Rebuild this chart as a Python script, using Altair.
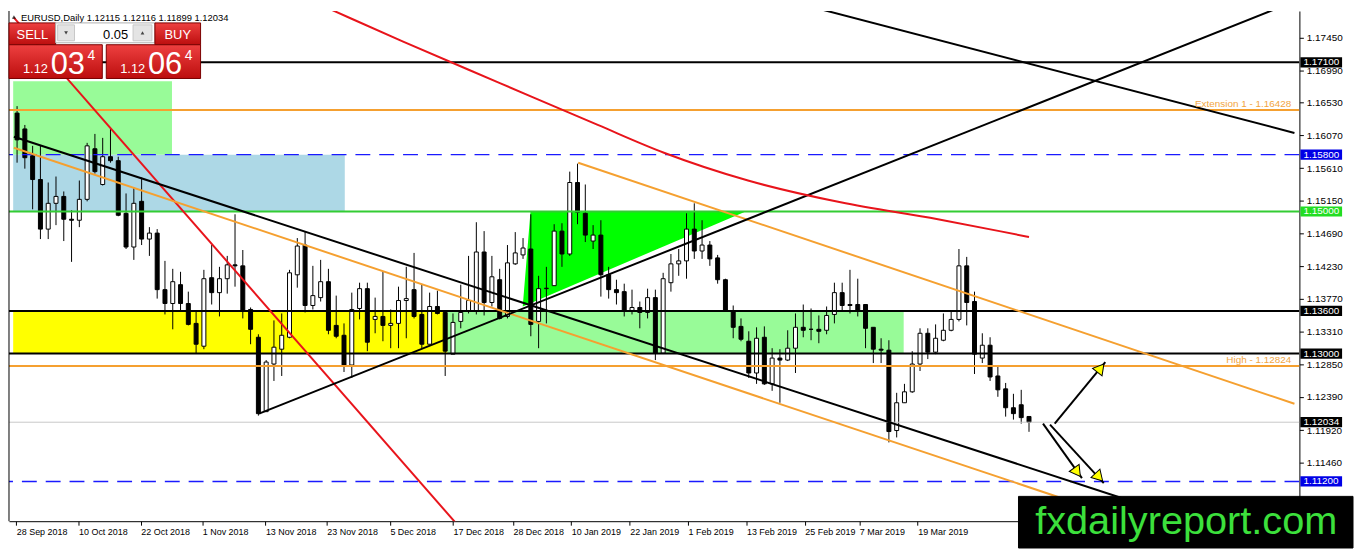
import json
import altair as alt
import pandas as pd

# EURUSD daily candles, bar index 0 (28 Sep 2018) .. 130 (last bar)
opens = [1.16385, 1.16162, 1.15785, 1.15450, 1.14752, 1.15115, 1.15212, 1.14891, 1.14877, 1.15171,
         1.15883, 1.15380, 1.15771, 1.15715, 1.14975, 1.14500, 1.15143, 1.14612, 1.14696, 1.13900,
         1.13705, 1.13970, 1.13705, 1.13425, 1.13104, 1.14068, 1.13858, 1.14054, 1.14249, 1.14235,
         1.13621, 1.13230, 1.12183, 1.12853, 1.13062, 1.13230, 1.14109, 1.14528, 1.13677, 1.13788,
         1.14012, 1.13397, 1.13258, 1.12839, 1.13635, 1.13914, 1.13481, 1.13523, 1.13397, 1.13425,
         1.13747, 1.13900, 1.13551, 1.13132, 1.13663, 1.13579, 1.12992, 1.13453, 1.13593, 1.13593,
         1.14430, 1.13719, 1.14040, 1.13523, 1.14263, 1.14389, 1.14472, 1.13453, 1.13914, 1.13956,
         1.14724, 1.14402, 1.15408, 1.14975, 1.14584, 1.14668, 1.14109, 1.13900, 1.13872, 1.13607,
         1.13649, 1.13579, 1.13788, 1.13006, 1.13998, 1.14263, 1.14305, 1.14752, 1.14444, 1.14528,
         1.14347, 1.14040, 1.13593, 1.13383, 1.13174, 1.12727, 1.13230, 1.12574, 1.12937, 1.12909,
         1.13076, 1.13370, 1.13342, 1.13342, 1.13328, 1.13551, 1.13858, 1.13691, 1.13691, 1.13691,
         1.13370, 1.13062, 1.13048, 1.11917, 1.12308, 1.12462, 1.12853, 1.13286, 1.13020, 1.13188,
         1.13328, 1.13481, 1.14235, 1.13733, 1.12937, 1.13118, 1.12685, 1.12504, 1.12238, 1.12280,
         1.12115]
highs = [1.16483, 1.16218, 1.15924, 1.15924, 1.15408, 1.15492, 1.15282, 1.15017, 1.15436, 1.15966,
         1.16092, 1.16036, 1.16176, 1.15771, 1.15254, 1.15338, 1.15478, 1.14780, 1.14752, 1.14305,
         1.14193, 1.14151, 1.13872, 1.13593, 1.14179, 1.14528, 1.14221, 1.14375, 1.14961, 1.14458,
         1.13649, 1.13272, 1.12909, 1.13467, 1.13565, 1.14179, 1.14626, 1.14724, 1.14235, 1.14319,
         1.14193, 1.13816, 1.13425, 1.13858, 1.13998, 1.13998, 1.13788, 1.14151, 1.13621, 1.13942,
         1.14221, 1.14417, 1.13970, 1.13858, 1.13886, 1.13607, 1.13565, 1.13970, 1.14375, 1.14849,
         1.14724, 1.14375, 1.14193, 1.14528, 1.14710, 1.14626, 1.14961, 1.14095, 1.14221, 1.14821,
         1.14835, 1.15561, 1.15673, 1.15380, 1.14808, 1.14877, 1.14221, 1.14040, 1.13984, 1.13900,
         1.13733, 1.13914, 1.13900, 1.14137, 1.14402, 1.14472, 1.14975, 1.15115, 1.14877, 1.14584,
         1.14389, 1.14054, 1.13677, 1.13495, 1.13314, 1.13370, 1.13383, 1.13076, 1.13062, 1.13328,
         1.13565, 1.13691, 1.13635, 1.13537, 1.13663, 1.13998, 1.13998, 1.14179, 1.14054, 1.13691,
         1.13370, 1.13216, 1.13188, 1.12448, 1.12574, 1.13034, 1.13356, 1.13356, 1.13411, 1.13565,
         1.13593, 1.14472, 1.14361, 1.13872, 1.13286, 1.13230, 1.12825, 1.12587, 1.12434, 1.12490,
         1.12116]
lows = [1.15687, 1.15603, 1.15031, 1.14612, 1.14612, 1.14808, 1.14584, 1.14291, 1.14780, 1.15143,
        1.15534, 1.15366, 1.15687, 1.14933, 1.14472, 1.14319, 1.14528, 1.14375, 1.13774, 1.13551,
        1.13342, 1.13593, 1.13397, 1.13006, 1.13062, 1.13691, 1.13523, 1.13844, 1.13942, 1.13495,
        1.13132, 1.12127, 1.12183, 1.12615, 1.12685, 1.13216, 1.13928, 1.13579, 1.13621, 1.13733,
        1.13272, 1.13216, 1.12741, 1.12657, 1.13481, 1.13034, 1.13286, 1.13174, 1.13076, 1.13076,
        1.13216, 1.13495, 1.13076, 1.13132, 1.13551, 1.12685, 1.12992, 1.13356, 1.13565, 1.13551,
        1.13537, 1.13663, 1.13481, 1.13495, 1.14249, 1.14333, 1.13244, 1.13076, 1.13425, 1.13956,
        1.14221, 1.14375, 1.14821, 1.14570, 1.14472, 1.13802, 1.13774, 1.13691, 1.13523, 1.13551,
        1.13356, 1.13495, 1.12909, 1.13006, 1.13872, 1.14095, 1.14054, 1.14333, 1.14333, 1.14235,
        1.13984, 1.13607, 1.13216, 1.13174, 1.12657, 1.12574, 1.12560, 1.12476, 1.12308, 1.12895,
        1.12727, 1.13230, 1.13188, 1.13146, 1.13272, 1.13425, 1.13593, 1.13565, 1.13523, 1.13076,
        1.12867, 1.12867, 1.11750, 1.11820, 1.12308, 1.12448, 1.12755, 1.12923, 1.12992, 1.13174,
        1.13314, 1.13453, 1.13397, 1.12713, 1.12867, 1.12615, 1.12392, 1.12113, 1.12071, 1.12015,
        1.11899]
closes = [1.16008, 1.15757, 1.15450, 1.14752, 1.15115, 1.15212, 1.14891, 1.14877, 1.15171, 1.15924,
          1.15561, 1.15771, 1.15715, 1.14947, 1.14500, 1.15115, 1.14612, 1.14696, 1.13900, 1.13705,
          1.14012, 1.13705, 1.13411, 1.13132, 1.14054, 1.13858, 1.14054, 1.14249, 1.14235, 1.13607,
          1.13342, 1.12155, 1.12881, 1.13090, 1.13258, 1.14137, 1.14514, 1.13677, 1.13816, 1.14012,
          1.13328, 1.13244, 1.12839, 1.13621, 1.13914, 1.13160, 1.13523, 1.13397, 1.13425, 1.13747,
          1.13774, 1.13523, 1.13132, 1.13663, 1.13565, 1.13034, 1.13439, 1.13579, 1.13747, 1.14430,
          1.13719, 1.14081, 1.13495, 1.14277, 1.14417, 1.14486, 1.13411, 1.13914, 1.13920, 1.14724,
          1.14402, 1.15408, 1.14989, 1.14668, 1.14668, 1.14109, 1.13900, 1.13858, 1.13607, 1.13649,
          1.13579, 1.13788, 1.13006, 1.14054, 1.14263, 1.14305, 1.14752, 1.14444, 1.14528, 1.14333,
          1.14040, 1.13607, 1.13370, 1.13202, 1.12727, 1.13216, 1.12574, 1.12937, 1.12909, 1.13076,
          1.13370, 1.13328, 1.13342, 1.13314, 1.13537, 1.13858, 1.13677, 1.13677, 1.13607, 1.13356,
          1.13062, 1.13048, 1.11903, 1.12308, 1.12462, 1.12853, 1.13286, 1.13020, 1.13216, 1.13328,
          1.13481, 1.14235, 1.13719, 1.12992, 1.13118, 1.12671, 1.12490, 1.12238, 1.12155, 1.12099,
          1.12034]

# date labels on the bottom axis (bar units) and price ticks on the right axis
date_pos = [-0.1, 7.9, 15.9, 23.8, 31.9, 39.8, 47.9, 56.0, 63.7, 71.2, 78.7, 86.2, 93.7, 101.2, 108.2, 115.7]
date_lab = ["28 Sep 2018", "10 Oct 2018", "22 Oct 2018", "1 Nov 2018", "13 Nov 2018", "23 Nov 2018",
            "5 Dec 2018", "17 Dec 2018", "28 Dec 2018", "10 Jan 2019", "22 Jan 2019", "1 Feb 2019",
            "13 Feb 2019", "25 Feb 2019", "7 Mar 2019", "19 Mar 2019"]
price_ticks = [1.1745, 1.1699, 1.1653, 1.1607, 1.1561, 1.1515, 1.1469, 1.1423, 1.1377,
               1.1331, 1.1285, 1.1239, 1.1192, 1.1146]

# horizontal levels
solid_p = [1.17100, 1.16428, 1.15000, 1.13600, 1.13000, 1.12824, 1.12034]
solid_col = ["black", "#F5A030", "#33CC33", "black", "black", "#F5A030", "#C8C8C8"]
solid_w = [2, 2, 2, 2, 2, 2, 1]
dashed_p = [1.15800, 1.11200]

# price boxes on the right scale
box_p = [1.17100, 1.15800, 1.15000, 1.13600, 1.13000, 1.12034, 1.11200]
box_col = ["black", "#0000E6", "#22DD22", "black", "black", "black", "#0000E6"]

# text on the orange levels
note_x = [163.7, 163.7]
note_p = [1.16428, 1.12824]
note_t = ["Extension 1 - 1.16428", "High - 1.12824"]

# zones
zone_x1 = [-0.5, -0.5, -0.5, 55.3]
zone_x2 = [19.9, 42.1, 55.3, 113.9]
zone_lo = [1.1580, 1.1500, 1.1300, 1.1300]
zone_hi = [1.16832, 1.1580, 1.1360, 1.1360]
zone_col = ["#98FB98", "#ADD8E6", "#FFFF00", "#98FB98"]

# green triangle
tri_x = [64.96, 65.96, 93.6]
tri_top = [1.13663, 1.15000, 1.15000]
tri_bot = [1.13663, 1.13710, 1.15000]

# trend lines (start / end in bar units and price)
tl_col = ["#E8141B", "black", "#F5A030", "#F5A030", "black", "black"]
tl_x1 = [-0.41, -0.41, -0.41, 72.09, 31.09, 102.09]
tl_p1 = [1.17728, 1.16053, 1.15897, 1.15687, 1.12155, 1.17879]
tl_x2 = [58.3, 142.1, 137.1, 164.1, 164.1, 164.1]
tl_p2 = [1.10373, 1.10961, 1.10859, 1.12294, 1.17956, 1.16106]

# red moving average
ma_x = [33.0, 39.3, 49.6, 62.1, 74.6, 83.1, 93.9, 105.8, 118.3, 126.2, 130.0]
ma_p = [1.18200, 1.17893, 1.17390, 1.16804, 1.16218, 1.15827, 1.15436, 1.15129, 1.14891, 1.14724, 1.14640]

# arrows
ar_x1 = [133.3, 131.8, 132.7]
ar_p1 = [1.12015, 1.12015, 1.12001]
ar_x2 = [139.8, 136.8, 139.6]
ar_p2 = [1.12881, 1.11247, 1.11177]
ar_hx = [139.2, 136.2, 139.0]
ar_hp = [1.12797, 1.11331, 1.11261]
ar_ang = [39, 144, 137]

W, H = 1300, 514

candles = pd.DataFrame({"i": range(len(opens)), "o": opens, "h": highs, "l": lows, "c": closes})
zones = pd.DataFrame({"x1": zone_x1, "x2": zone_x2, "lo": zone_lo, "hi": zone_hi, "col": zone_col})
tri = pd.DataFrame({"x": tri_x, "top": tri_top, "bot": tri_bot})
solid = pd.DataFrame({"p": solid_p, "col": solid_col, "w": solid_w})
dashed = pd.DataFrame({"p": dashed_p})
boxes = pd.DataFrame({"p": box_p, "col": box_col, "t": [f"{v:.5f}" for v in box_p]})
notes = pd.DataFrame({"x": note_x, "p": note_p, "t": note_t})
trend = pd.DataFrame({
    "id": list(range(len(tl_col))) * 2,
    "col": tl_col * 2,
    "x": tl_x1 + tl_x2,
    "p": tl_p1 + tl_p2,
})
ma = pd.DataFrame({"x": ma_x, "p": ma_p})
arrows = pd.DataFrame({"x1": ar_x1, "p1": ar_p1, "x2": ar_x2, "p2": ar_p2,
                       "hx": ar_hx, "hp": ar_hp, "ang": ar_ang})
dummy = pd.DataFrame({"a": [0]})

xs = alt.Scale(domain=[-0.4, 164.1], nice=False, zero=False)
ys = alt.Scale(domain=[1.10641, 1.17822], nice=False, zero=False)
label_expr = "%s[indexof(%s, datum.value)]" % (json.dumps(date_lab), json.dumps(date_pos))
xax = alt.Axis(values=date_pos, labelExpr=label_expr, title=None, grid=False, orient="bottom",
               domainColor="black", tickColor="black", tickSize=4, labelAlign="left",
               labelBaseline="top", labelPadding=2, labelFont="Liberation Sans", labelFontSize=9,
               labelColor="black", labelOverlap=False, labelFlush=False)
yax = alt.Axis(values=price_ticks, format=".5f", title=None, grid=False, orient="right",
               domainColor="black", tickColor="black", tickSize=4, labelPadding=3,
               labelFont="Liberation Sans", labelFontSize=10, labelColor="black",
               labelOverlap=False, labelFlush=False)


def X(f):
    return alt.X(f, type="quantitative", scale=xs, axis=xax)


def Y(f):
    return alt.Y(f, type="quantitative", scale=ys, axis=yax)


red_grad = alt.Gradient(gradient="linear", x1=0, x2=0, y1=0, y2=1,
                        stops=[alt.GradientStop(color="#EE4040", offset=0),
                               alt.GradientStop(color="#BC0E0E", offset=1)])


def box(x1, y1, x2, y2, fill, stroke="#7A0000"):
    return alt.Chart(dummy).mark_rect(fill=fill, stroke=stroke, strokeWidth=1).encode(
        x=alt.value(x1), x2=alt.value(x2), y=alt.value(y1), y2=alt.value(y2))


def label(x, y, text, size, color="white", align="left", weight="normal"):
    return alt.Chart(dummy).mark_text(text=text, font="Liberation Sans", fontSize=size, color=color,
                                      align=align, baseline="alphabetic", fontWeight=weight).encode(
        x=alt.value(x), y=alt.value(y))


layers = [
    alt.Chart(zones).mark_rect(clip=True).encode(
        x=X("x1"), x2=alt.X2("x2"), y=Y("lo"), y2=alt.Y2("hi"), color=alt.Color("col:N", scale=None)),
    alt.Chart(tri).mark_area(color="#00FF00", clip=True).encode(x=X("x"), y=Y("top"), y2=alt.Y2("bot")),
    alt.Chart(candles).mark_rule(color="black", strokeWidth=1).encode(x=X("i"), y=Y("l"), y2=alt.Y2("h")),
    alt.Chart(candles).mark_bar(width=4, stroke="black", strokeWidth=1).encode(
        x=X("i"), y=Y("o"), y2=alt.Y2("c"),
        fill=alt.condition("datum.c >= datum.o", alt.value("white"), alt.value("black"))),
    alt.Chart(solid).mark_rule(clip=True).encode(
        y=Y("p"), color=alt.Color("col:N", scale=None), strokeWidth=alt.StrokeWidth("w:Q", scale=None)),
    alt.Chart(dashed).mark_rule(color="#1A1AFF", strokeWidth=1.3, strokeDash=[15, 9], clip=True).encode(y=Y("p")),
    alt.Chart(trend).mark_line(strokeWidth=2, clip=True).encode(
        x=X("x"), y=Y("p"), detail="id:N", color=alt.Color("col:N", scale=None)),
    alt.Chart(ma).mark_line(color="#E8141B", strokeWidth=2, interpolate="monotone", clip=True).encode(
        x=X("x"), y=Y("p")),
    alt.Chart(arrows).mark_rule(color="black", strokeWidth=2).encode(
        x=X("x1"), x2=alt.X2("x2"), y=Y("p1"), y2=alt.Y2("p2")),
    alt.Chart(arrows).mark_point(shape="triangle-up", filled=True, color="#FFFF00", stroke="black",
                                 strokeWidth=1, size=150, opacity=1).encode(
        x=X("hx"), y=Y("hp"), angle=alt.Angle("ang:Q", scale=None)),
    alt.Chart(notes).mark_text(align="right", baseline="bottom", dy=-1, font="Liberation Sans",
                               fontSize=10, color="#F2A541").encode(x=X("x"), y=Y("p"), text="t:N"),
    alt.Chart(boxes).transform_calculate(lo="datum.p - 0.00072", hi="datum.p + 0.00072").mark_rect().encode(
        x=alt.value(W + 1), x2=alt.value(W + 43), y=Y("lo:Q"), y2=alt.Y2("hi:Q"),
        color=alt.Color("col:N", scale=None)),
    alt.Chart(boxes).mark_text(align="left", baseline="middle", font="Liberation Sans", fontSize=10,
                               color="white").encode(x=alt.value(W + 4), y=Y("p"), text="t:N"),
    alt.Chart(dummy).mark_rule(color="black", strokeWidth=1).encode(
        x=alt.value(0), y=alt.value(0), y2=alt.value(H)),
    # trading panel
    alt.Chart(dummy).mark_point(shape="triangle-up", filled=True, color="black", size=18).encode(
        x=alt.value(5), y=alt.value(6)),
    label(12, 10, "EURUSD,Daily  1.12115 1.12116 1.11899 1.12034", 9.5, color="black"),
    box(0, 12, 47, 34, red_grad),
    box(47, 12, 147, 32, "white", stroke="#B0B0B0"),
    box(49, 14, 66, 30, "#E4E4E4", stroke="#C8C8C8"),
    box(125, 14, 144, 30, "#E4E4E4", stroke="#C8C8C8"),
    box(147, 12, 193, 34, red_grad),
    box(0, 34, 94, 68, red_grad),
    box(98, 34, 193, 68, red_grad),
    alt.Chart(dummy).mark_point(shape="triangle-down", filled=True, color="black", size=14).encode(
        x=alt.value(57.5), y=alt.value(22)),
    alt.Chart(dummy).mark_point(shape="triangle-up", filled=True, color="black", size=14).encode(
        x=alt.value(134.5), y=alt.value(22)),
    label(23.5, 28, "SELL", 13, align="center"),
    label(120, 28, "0.05", 13, color="black", align="right"),
    label(170, 28, "BUY", 13, align="center"),
    label(14, 62, "1.12", 13),
    label(42, 63, "03", 31),
    label(79, 49, "4", 14),
    label(112, 62, "1.12", 13),
    label(140, 63, "06", 31),
    label(177, 49, "4", 14),
    # logo
    box(1017, 489, 1354, 541, "black", stroke="black"),
    label(1186, 527, "fxdailyreport.com", 40, color="#3CE03C", align="center"),
]

chart = alt.layer(*layers).properties(width=W, height=H, padding=0, background="white").configure_view(
    strokeWidth=0)

chart.save("out.html", embed_options={"renderer": "svg", "actions": False})
